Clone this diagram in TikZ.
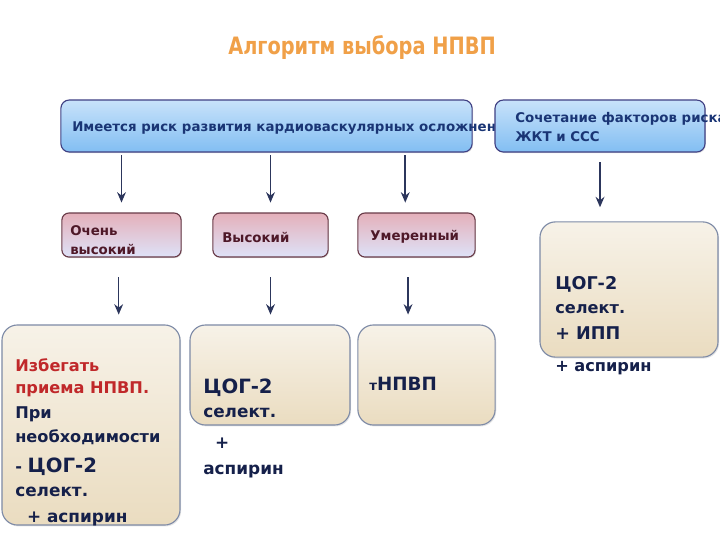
\documentclass[tikz,border=0pt]{standalone}
\usepackage{fontspec}
\setmainfont{DejaVu Sans}
\usepackage{xcolor}
\usetikzlibrary{arrows.meta,shadows}

\definecolor{riskblue}{HTML}{1A3575}
\definecolor{levelred}{HTML}{4E1828}
\definecolor{drugnavy}{HTML}{15204A}
\definecolor{warnred}{HTML}{C0282A}
\definecolor{titleorange}{HTML}{F0A048}

\begin{document}
\begin{tikzpicture}[
    x=0.025cm, y=-0.025cm,
    box/.style={rectangle, draw, line width=0.8pt, inner sep=0pt},
    risk/.style={box, draw=blue!35!black!75, rounded corners=6pt, top color={rgb,255:red,200;green,226;blue,250}, bottom color={rgb,255:red,130;green,190;blue,242}, minimum height=1.3cm, drop shadow={opacity=0.25, shadow xshift=0.6pt, shadow yshift=-0.8pt}},
    level/.style={box, draw=levelred!85, rounded corners=5pt, top color={rgb,255:red,228;green,176;blue,186}, bottom color={rgb,255:red,222;green,226;blue,248}, minimum height=1.1cm, drop shadow={opacity=0.25, shadow xshift=0.6pt, shadow yshift=-0.8pt}},
    drug/.style={box, draw={rgb,255:red,125;green,138;blue,166}, rounded corners=11pt, top color={rgb,255:red,247;green,242;blue,232}, bottom color={rgb,255:red,234;green,220;blue,192}, drop shadow={opacity=0.2, shadow xshift=0.8pt, shadow yshift=-1pt}},
    risktext/.style={font=\bfseries\fontsize{9.5}{13}\selectfont, text=riskblue, align=left, inner sep=0pt},
    leveltext/.style={font=\bfseries\fontsize{9.5}{14}\selectfont, text=levelred, align=left, inner sep=0pt},
    drugtext/.style={font=\bfseries\fontsize{11.5}{17}\selectfont, text=drugnavy, align=left, inner sep=0pt},
    arrow/.style={-{Stealth[length=2.6mm, width=2.2mm]}, line width=1.1pt, draw=drugnavy!90}
]
\useasboundingbox (0,0) rectangle (720,540);
\clip (0,0) rectangle (720,540);

% title
\node[font=\bfseries\fontsize{17}{19}\selectfont, text=titleorange] (title) at (362,48) {\scalebox{0.81}[1]{Алгоритм выбора НПВП}};

% risk groups
\node[risk, minimum width=10.28cm] (cardio) at (266.5,126) {};
\node[risktext, anchor=west] (cardiotext) at (72,128) {Имеется риск развития кардиоваскулярных осложнений};
\node[risk, minimum width=5.25cm] (combo) at (600,126) {};
\node[risktext, anchor=west] (combotext) at (515,127) {Сочетание факторов риска\\ЖКТ и ССС};

% risk levels
\node[level, minimum width=2.98cm] (veryhigh) at (121.5,235) {};
\node[leveltext, anchor=west] at (70,240) {Очень\\высокий};
\node[level, minimum width=2.88cm] (high) at (270.5,235) {};
\node[leveltext, anchor=west] at (222,237) {Высокий};
\node[level, minimum width=2.93cm] (moderate) at (416.5,235) {};
\node[leveltext, anchor=west] at (370,237) {Умеренный};

% choice of drug
\node[drug, minimum width=4.45cm, minimum height=5cm] (avoid) at (91,425) {};
\node[drugtext, anchor=north west] (avoidtext) at (15,358) {\textcolor{warnred}{Избегать}\\[-1pt]
    \textcolor{warnred}{приема НПВП.}\\[1pt]
    При\\
    необходимости\\[4pt]
    - {\fontsize{14}{19.5}\selectfont ЦОГ-2}\\
    {\fontsize{12}{19.5}\selectfont селект.}\\[2pt]
    {\fontsize{12}{19.5}\selectfont\ \ + аспирин}};
\node[drug, minimum width=4cm, minimum height=2.5cm] (coxa) at (270,375) {};
\node[drugtext, anchor=north west] (coxatext) at (203,379) {{\fontsize{14}{17}\selectfont ЦОГ-2}\\
    {\fontsize{12}{18}\selectfont селект.}\\[5pt]
    {\fontsize{12}{21}\selectfont\ \ +}\\[1.5pt]
    {\fontsize{12}{19.5}\selectfont аспирин}};
\node[drug, minimum width=3.43cm, minimum height=2.5cm] (nsaid) at (426.5,375) {};
\node[drugtext, anchor=west] (nsaidtext) at (369,384) {{\fontsize{9.5}{11}\selectfont т}{\fontsize{13}{15}\selectfont НПВП}};
\node[drug, minimum width=4.45cm, minimum height=3.38cm] (coxppi) at (629,289.5) {};
\node[drugtext, anchor=north west] (coxppitext) at (555,276) {{\fontsize{12.5}{17}\selectfont ЦОГ-2}\\
    {\fontsize{11.5}{18}\selectfont селект.}\\[1.5pt]
    {\fontsize{12.5}{18}\selectfont + ИПП}\\[6pt]
    {\fontsize{11.5}{23}\selectfont + аспирин}};

% arrows
\draw[arrow, shorten <=2pt, shorten >=7pt] (cardio.south -| veryhigh.north) -- (veryhigh.north);
\draw[arrow, shorten <=2pt, shorten >=7pt] (cardio.south -| high.north) -- (high.north);
\draw[arrow, shorten <=2pt, shorten >=7pt] ([xshift=-8pt]cardio.south -| moderate.north) -- ([xshift=-8pt]moderate.north);
\draw[arrow, shorten <=7pt, shorten >=10pt] (combo.south) -- (combo.south |- coxppi.north);
\draw[arrow, shorten <=14pt, shorten >=7pt] ([xshift=-2pt]veryhigh.south) -- ([xshift=-2pt]veryhigh.south |- avoid.north);
\draw[arrow, shorten <=14pt, shorten >=7pt] (high.south) -- (high.south |- coxa.north);
\draw[arrow, shorten <=14pt, shorten >=7pt] ([xshift=-6pt]moderate.south) -- ([xshift=-6pt]moderate.south |- nsaid.north);
\end{tikzpicture}
\end{document}
